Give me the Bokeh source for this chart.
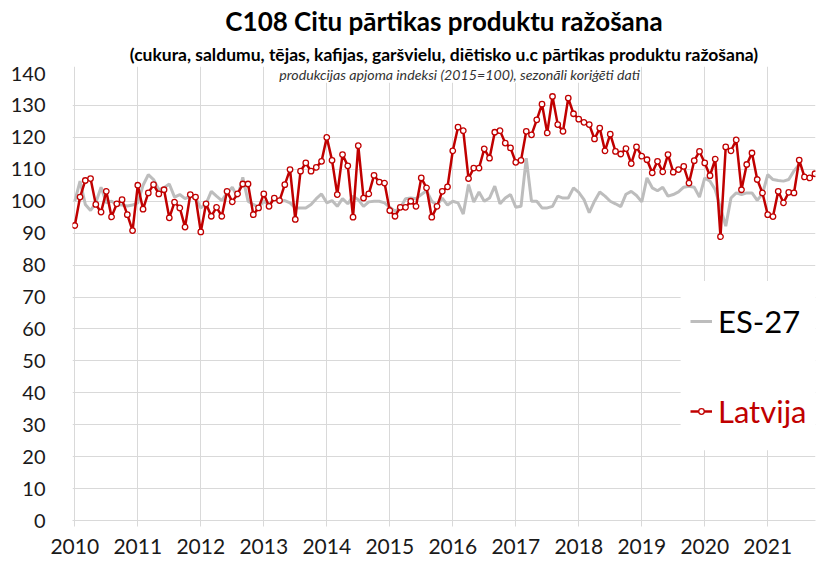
from bokeh.plotting import figure
from bokeh.models import FixedTicker, Label, Legend, LegendItem, BoxAnnotation, Title
from bokeh.embed import file_html
from bokeh.resources import INLINE

# Latvija monthly index (2015=100), Jan 2010 .. Oct 2021
latvija = [92.4, 101.3, 106.5, 107.1, 99.0, 96.6, 103.1, 95.1, 99.2, 100.5, 95.8, 90.8,
           105.0, 97.5, 102.6, 105.2, 102.3, 103.6, 94.8, 99.7, 97.9, 91.9, 102.1, 101.3,
           90.4, 99.2, 95.3, 98.1, 95.3, 103.1, 99.8, 102.3, 105.4, 105.4, 95.8, 97.9,
           102.3, 98.4, 101.0, 100.2, 105.2, 109.9, 94.3, 109.4, 112.0, 109.4, 110.6, 112.5,
           120.0, 112.8, 102.1, 114.6, 111.1, 95.0, 117.4, 101.0, 102.3, 108.1, 106.0, 105.7,
           97.1, 95.3, 98.1, 98.1, 100.0, 98.4, 107.3, 104.2, 95.0, 98.4, 103.1, 104.5,
           115.8, 123.2, 122.1, 107.1, 110.4, 110.4, 116.4, 113.5, 121.6, 122.1, 118.2, 116.7,
           112.2, 112.8, 121.9, 120.8, 125.5, 130.4, 121.4, 132.8, 124.0, 121.9, 132.3, 127.4,
           125.7, 124.7, 124.0, 119.5, 122.9, 115.8, 121.0, 115.6, 114.8, 116.5, 111.8, 117.0,
           114.1, 113.0, 108.9, 112.5, 109.2, 114.6, 109.1, 109.9, 110.9, 105.7, 112.7, 115.6,
           112.0, 108.0, 113.2, 88.9, 117.0, 115.8, 119.2, 103.6, 111.5, 115.1, 106.8, 102.6,
           95.8, 95.2, 103.1, 99.5, 102.8, 102.6, 112.9, 107.6, 107.3, 108.6]

# ES-27 monthly index (2015=100), Jan 2010 .. Jul 2021
es27 = [100.0, 106.3, 99.0, 97.1, 99.5, 104.4, 99.5, 100.0, 99.0, 98.8, 98.5, 98.8,
        99.5, 105.0, 108.3, 106.8, 103.6, 104.2, 105.4, 101.3, 102.1, 100.8, 101.6, 101.0,
        97.9, 99.2, 103.1, 101.6, 100.2, 102.6, 104.4, 101.3, 107.5, 100.0, 99.0, 98.1,
        100.0, 98.8, 101.0, 100.0, 100.2, 99.5, 97.9, 97.9, 97.9, 99.0, 100.8, 102.3,
        99.5, 100.2, 98.4, 100.8, 99.2, 101.6, 100.5, 98.4, 99.8, 100.0, 100.0, 99.5,
        98.1, 96.9, 97.9, 100.8, 101.0, 100.8, 102.1, 103.3, 100.0, 98.8, 101.0, 98.8,
        100.0, 99.5, 96.0, 105.2, 99.7, 102.9, 100.0, 101.0, 104.7, 99.2, 101.0, 102.1,
        98.1, 98.4, 113.5, 100.0, 100.0, 97.9, 97.9, 98.4, 101.6, 101.0, 101.0, 104.2,
        102.8, 100.5, 96.4, 100.0, 102.9, 101.6, 100.0, 99.2, 98.3, 102.2, 103.1, 101.8,
        99.8, 107.3, 104.2, 103.3, 104.4, 101.6, 102.1, 102.9, 104.4, 104.7, 104.4, 101.3,
        107.3, 106.3, 103.6, 97.9, 92.2, 101.0, 102.6, 102.1, 102.6, 102.6, 100.3, 102.3,
        108.3, 106.8, 106.5, 106.3, 106.8, 109.5, 111.5]

years = [str(y) for y in range(2010, 2022)]
y_ticks = list(range(0, 141, 10))

month_lv = list(range(len(latvija)))
month_es = list(range(len(es27)))
year_ticks = [12 * k for k in range(len(years))]

FONT = "Lato"
RED = "#C00000"
GRAY = "#BDBDBD"
GRID = "#D9D9D9"

p = figure(width=818, height=563, x_range=(-0.44, 141.1), y_range=(0, 142.2),
           output_backend="svg", toolbar_location=None,
           min_border_left=72, min_border_right=3, min_border_top=65, min_border_bottom=43)
p.outline_line_color = None
p.background_fill_color = "white"
p.border_fill_color = "white"

# titles (stacked outward from the plot frame)
p.add_layout(Title(text="(cukura, saldumu, tējas, kafijas, garšvielu, diētisko u.c pārtikas produktu ražošana)",
                   align="center", offset=8, standoff=4, text_font=FONT,
                   text_font_size="17.5px", text_font_style="bold", text_color="#000000"), "above")
p.add_layout(Title(text="C108 Citu pārtikas produktu ražošana",
                   align="center", offset=3, standoff=5, text_font=FONT,
                   text_font_size="26px", text_font_style="bold", text_color="#000000"), "above")

# axes
p.xaxis.ticker = FixedTicker(ticks=year_ticks)
p.xaxis.major_label_overrides = {t: lab for t, lab in zip(year_ticks, years)}
p.xaxis.axis_line_color = GRID
p.xaxis.major_tick_line_color = GRID
p.xaxis.major_tick_in = 0
p.xaxis.major_tick_out = 6
p.xaxis.minor_tick_line_color = None
p.xaxis.major_label_standoff = 12
p.xaxis.major_label_text_font = FONT
p.xaxis.major_label_text_font_size = "21px"
p.xaxis.major_label_text_color = "#1a1a1a"

p.yaxis.ticker = FixedTicker(ticks=y_ticks)
p.yaxis.axis_line_color = None
p.yaxis.major_tick_line_color = None
p.yaxis.minor_tick_line_color = None
p.yaxis.major_label_standoff = 21
p.yaxis.major_label_text_font = FONT
p.yaxis.major_label_text_font_size = "20px"
p.yaxis.major_label_text_color = "#1a1a1a"

p.xgrid.ticker = FixedTicker(ticks=year_ticks)
p.xgrid.grid_line_color = GRID
p.ygrid.ticker = FixedTicker(ticks=y_ticks[:-1])
p.ygrid.grid_line_color = GRID

# data
es_line = p.line(month_es, es27, line_color=GRAY, line_width=3)
lv_line = p.line(month_lv, latvija, line_color=RED, line_width=2.5)
lv_pts = p.scatter(month_lv, latvija, marker="circle", size=5.5, fill_color="white",
                   line_color=RED, line_width=1.3)

# note line inside the plot top
p.add_layout(Label(x=73.3, y=139.8,
                   text="produkcijas apjoma indeksi (2015=100), sezonāli koriģēti dati",
                   text_align="center", text_baseline="middle", text_font=FONT,
                   text_font_size="14.2px", text_font_style="italic", text_color="#333333",
                   background_fill_color="white", background_fill_alpha=1.0))

# legend area
p.add_layout(BoxAnnotation(left=115.4, bottom=22, top=75, fill_color="white",
                           fill_alpha=1.0, line_color=None))

leg1 = Legend(items=[LegendItem(label="ES-27", renderers=[es_line])],
              location=(618, 180), orientation="vertical",
              label_text_font=FONT, label_text_font_size="31px", label_text_color="#000000",
              glyph_width=22, glyph_height=36, label_height=36, label_standoff=6,
              padding=0, margin=0, spacing=0, border_line_color=None,
              background_fill_alpha=0.0)
leg2 = Legend(items=[LegendItem(label="Latvija", renderers=[lv_line, lv_pts])],
              location=(618, 90), orientation="vertical",
              label_text_font=FONT, label_text_font_size="31px", label_text_color=RED,
              glyph_width=22, glyph_height=14, label_height=36, label_standoff=6,
              padding=0, margin=0, spacing=0, border_line_color=None,
              background_fill_alpha=0.0)
p.add_layout(leg1)
p.add_layout(leg2)

open("out.html", "w").write(file_html(p, INLINE))
